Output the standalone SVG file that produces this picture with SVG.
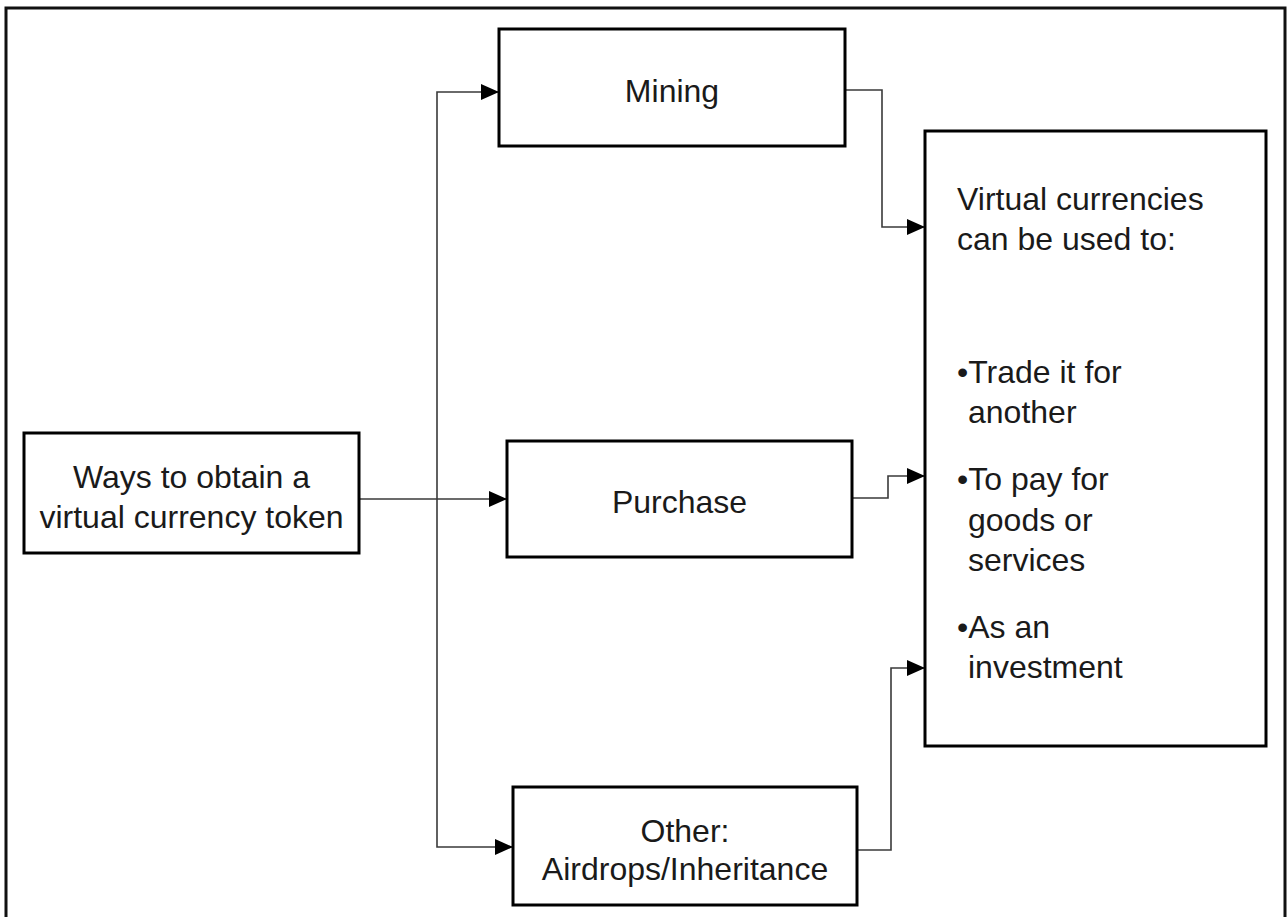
<svg xmlns="http://www.w3.org/2000/svg" width="1287" height="917" viewBox="0 0 1287 917">
  <style>
    .box { fill: #ffffff; stroke: #000000; stroke-width: 3; }
    .frame { fill: #ffffff; stroke: #111111; stroke-width: 3; }
    .conn { fill: none; stroke: #3a3a3a; stroke-width: 1.6; }
    text { font-family: "Liberation Sans", Arial, sans-serif; font-size: 32px; fill: #1a1a1a; }
    .c { text-anchor: middle; }
  </style>
  <defs>
    <marker id="arrow" viewBox="0 0 18 16" refX="18" refY="8" markerWidth="18" markerHeight="16" markerUnits="userSpaceOnUse" orient="auto">
      <path d="M0,0 L18,8 L0,16 Z" fill="#000000"/>
    </marker>
  </defs>

  <!-- outer frame (open at the bottom edge of the canvas) -->
  <rect class="frame" x="6" y="8" width="1279" height="940"/>

  <!-- connectors -->
  <g id="connectors">
    <path class="conn" d="M359,499 H507" marker-end="url(#arrow)"/>
    <path class="conn" d="M437,499 V92 H499" marker-end="url(#arrow)"/>
    <path class="conn" d="M437,499 V847 H513" marker-end="url(#arrow)"/>
    <path class="conn" d="M845,90 H882 V227 H925" marker-end="url(#arrow)"/>
    <path class="conn" d="M852,498 H888 V476 H925" marker-end="url(#arrow)"/>
    <path class="conn" d="M857,850 H891 V668 H925" marker-end="url(#arrow)"/>
  </g>

  <!-- nodes -->
  <g id="ways">
    <rect class="box" x="24" y="433" width="335" height="120"/>
    <text class="c" x="191.5" y="488">Ways to obtain a</text>
    <text class="c" x="191.5" y="528">virtual currency token</text>
  </g>

  <g id="mining">
    <rect class="box" x="499" y="29" width="346" height="117"/>
    <text class="c" x="672" y="102">Mining</text>
  </g>

  <g id="purchase">
    <rect class="box" x="507" y="441" width="345" height="116"/>
    <text class="c" x="679.5" y="513">Purchase</text>
  </g>

  <g id="other">
    <rect class="box" x="513" y="787" width="344" height="118"/>
    <text class="c" x="685" y="842">Other:</text>
    <text class="c" x="685" y="880">Airdrops/Inheritance</text>
  </g>

  <g id="uses">
    <rect class="box" x="925" y="131" width="341" height="615"/>
    <text x="957" y="210">Virtual currencies</text>
    <text x="957" y="250">can be used to:</text>
    <text x="957" y="383">•Trade it for</text>
    <text x="968" y="423">another</text>
    <text x="957" y="490">•To pay for</text>
    <text x="968" y="531">goods or</text>
    <text x="968" y="571">services</text>
    <text x="957" y="638">•As an</text>
    <text x="968" y="678">investment</text>
  </g>
</svg>
